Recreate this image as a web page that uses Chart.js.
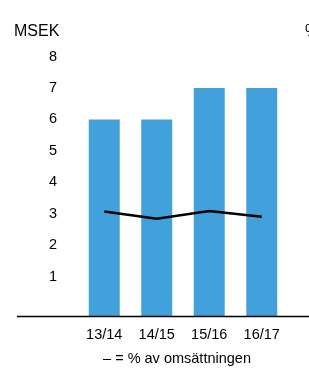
<!DOCTYPE html>
<html>
<head>
<meta charset="utf-8">
<script src="https://cdn.jsdelivr.net/npm/chart.js@4"></script>
<style>
  html, body { margin: 0; padding: 0; background: #fff; }
</style>
</head>
<body>
<canvas id="chart" width="309" height="372"></canvas>
<script>
// data
const years = ['13/14', '14/15', '15/16', '16/17'];
const msek = [6, 6, 7, 7];
const pctOfSales = [3.07, 2.84, 3.09, 2.91];
const yTicks = [1, 2, 3, 4, 5, 6, 7, 8];

const FONT = 'Liberation Sans, Arial, Helvetica, sans-serif';
const BLUE = '#42a0db';

// extra texts and the long baseline
const decor = {
  id: 'decor',
  afterDraw(chart) {
    const ctx = chart.ctx;
    const area = chart.chartArea;
    ctx.save();
    ctx.strokeStyle = '#000';
    ctx.lineWidth = 1.5;
    ctx.beginPath();
    ctx.moveTo(17, area.bottom + 0.5);
    ctx.lineTo(chart.width, area.bottom + 0.5);
    ctx.stroke();

    ctx.fillStyle = '#000';
    ctx.textBaseline = 'middle';
    ctx.font = '16px ' + FONT;
    ctx.textAlign = 'left';
    ctx.fillText('MSEK', 14, 32);
    ctx.fillText('%', 305, 32);

    ctx.font = '14.5px ' + FONT;
    ctx.textAlign = 'center';
    ctx.fillText('\u2013 = % av oms\u00e4ttningen', 177, 359);
    ctx.restore();
  }
};

new Chart(document.getElementById('chart').getContext('2d'), {
  data: {
    labels: years,
    datasets: [
      {
        type: 'line',
        data: pctOfSales,
        yAxisID: 'y1',
        borderColor: '#000',
        borderWidth: 2.5,
        pointRadius: 0,
        tension: 0,
        order: 0
      },
      {
        type: 'bar',
        data: msek,
        yAxisID: 'y',
        backgroundColor: BLUE,
        base: -0.25,
        barPercentage: 0.59,
        categoryPercentage: 1,
        order: 1
      }
    ]
  },
  options: {
    responsive: false,
    animation: false,
    layout: { padding: { left: 49, right: 21, top: 44, bottom: 31 } },
    plugins: {
      legend: { display: false },
      tooltip: { enabled: false }
    },
    scales: {
      x: {
        grid: { display: false, drawTicks: false },
        border: { display: false },
        afterFit: s => { s.height = 25; },
        ticks: { color: '#000', font: { family: FONT, size: 14.5 }, padding: 10 }
      },
      y: {
        min: -0.25,
        max: 8.4,
        grid: { display: false, drawTicks: false },
        border: { display: false },
        afterBuildTicks: s => { s.ticks = yTicks.map(v => ({ value: v })); },
        afterFit: s => { s.width = 29; },
        ticks: { color: '#000', font: { family: FONT, size: 14.5 }, padding: 21 }
      },
      y1: {
        display: false,
        min: -0.25,
        max: 8.4
      }
    }
  },
  plugins: [decor]
});
</script>
</body>
</html>
